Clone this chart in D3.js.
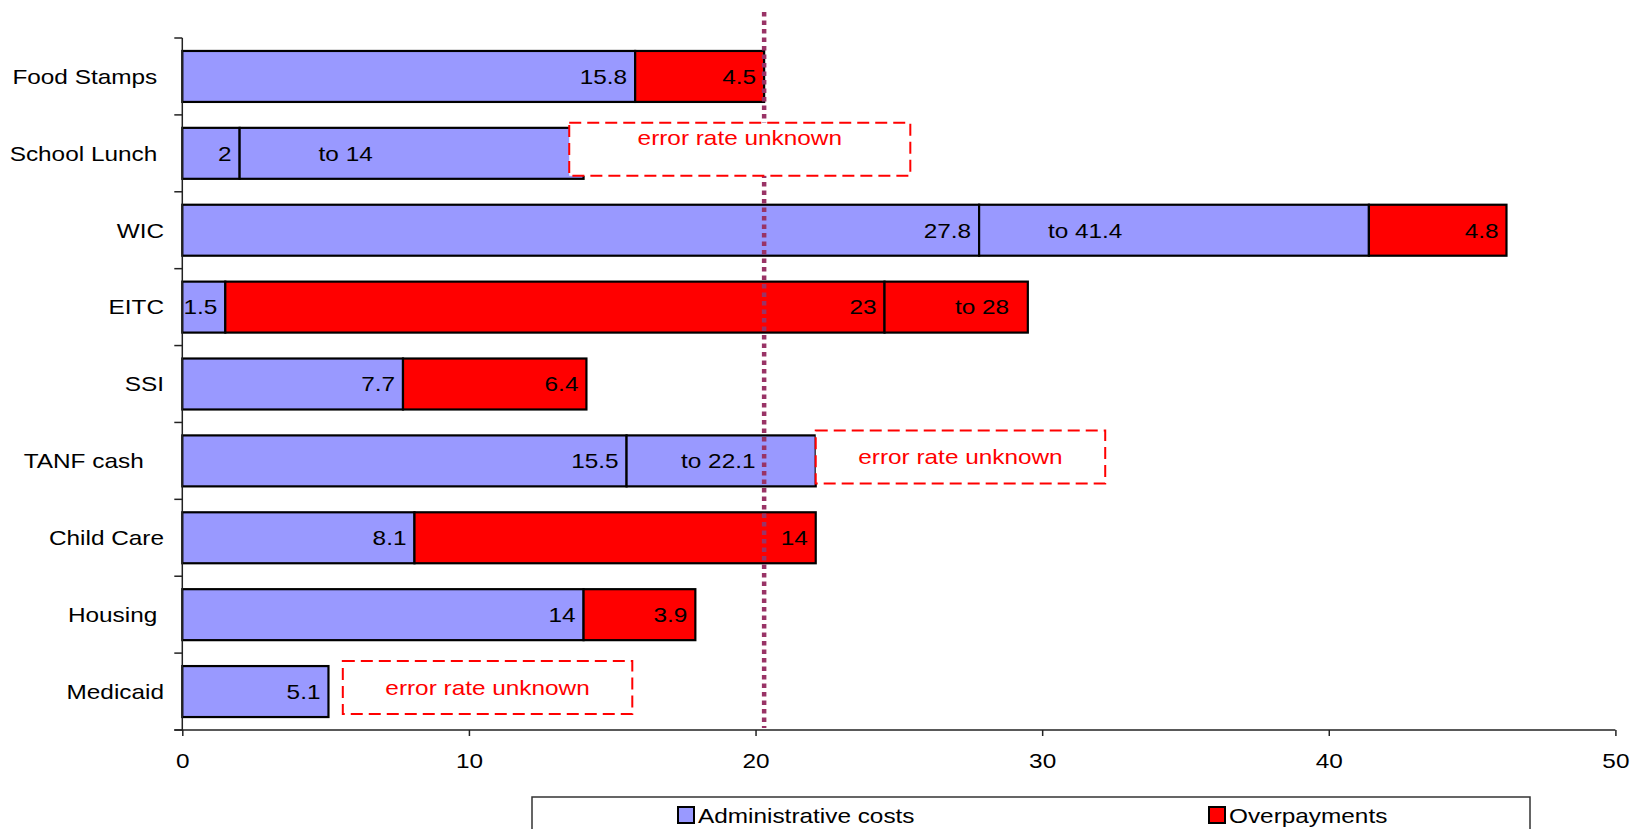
<!DOCTYPE html>
<html>
<head>
<meta charset="utf-8">
<script src="https://cdn.jsdelivr.net/npm/d3@7"></script>
<style>
  html, body { margin: 0; padding: 0; background: #fff; }
  svg { display: block; }
  text { font-family: "Liberation Sans", Arial, sans-serif; white-space: pre; }
</style>
</head>
<body>
<svg id="chart" width="1633" height="829"></svg>
<script>
// Programs, top to bottom (trailing spaces keep the label alignment of the original layout)
const categories = ["Food Stamps ", "School Lunch ", "WIC", "EITC", "SSI", "TANF cash   ", "Child Care", "Housing ", "Medicaid"];

// Administrative costs, as a percent of benefits: low estimate and, where given, upper bound
const adminLow  = [15.8, 2, 27.8, 1.5, 7.7, 15.5, 8.1, 14, 5.1];
const adminHigh = [null, 14, 41.4, null, null, 22.1, null, null, null];

// Overpayments, as a percent of benefits: low estimate and, where given, upper bound
const overLow  = [4.5, null, 4.8, 23, 6.4, null, 14, 3.9, null];
const overHigh = [null, null, null, 28, null, null, null, null, null];

// Where the "to …" range labels sit, in percent
const rangeLabelAt = [null, 5.7, 31.5, 27.9, null, 18.7, null, null, null];

// Programs whose error rate is not known: note box span in percent
const unknownNotes = [
  { program: "School Lunch ", from: 13.5, to: 25.4, textPos: 0.28 },
  { program: "TANF cash   ",  from: 22.1, to: 32.2, textPos: 0.5 },
  { program: "Medicaid",      from: 5.6,  to: 15.7, textPos: 0.5 }
];

const xTicks = [0, 10, 20, 30, 40, 50];
const seriesNames = ["Administrative costs", "Overpayments"];

const ADMIN = "#9999FF", OVER = "#FF0000", NOTE = "#FF0000", REF = "#993366";
const SX = 1.16;             // horizontal stretch of the lettering
const FONT = 21;

const svg = d3.select("#chart");
const x = d3.scaleLinear().domain([0, 50]).range([182.3, 1615.4]);
const y = d3.scaleBand().domain(categories).range([38, 730]).paddingInner(0.337).paddingOuter(0.1685);

// text helper: places a label and widens it around its anchor
function label(g, px, py, str, anchor, color, size) {
  return g.append("text")
    .attr("transform", `translate(${px},${py}) scale(${SX},1)`)
    .attr("text-anchor", anchor)
    .attr("dominant-baseline", "central")
    .attr("fill", color || "#000")
    .attr("font-size", size || FONT)
    .text(str);
}

// build segments from the series arrays
const segments = [];
categories.forEach((c, i) => {
  let start = 0;
  segments.push({ c, x0: 0, x1: adminLow[i], fill: ADMIN, text: String(adminLow[i]), mode: "end" });
  start = adminLow[i];
  if (adminHigh[i] != null) {
    segments.push({ c, x0: start, x1: adminHigh[i], fill: ADMIN, text: "to " + adminHigh[i], mode: "at", at: rangeLabelAt[i] });
    start = adminHigh[i];
  }
  if (overLow[i] != null) {
    const base = start;
    segments.push({ c, x0: base, x1: base + overLow[i], fill: OVER, text: String(overLow[i]), mode: "end" });
    start = base + overLow[i];
    if (overHigh[i] != null) {
      segments.push({ c, x0: start, x1: base + overHigh[i], fill: OVER, text: "to " + overHigh[i], mode: "at", at: rangeLabelAt[i] });
    }
  }
});

// reference line at the Food Stamps total
const refValue = adminLow[0] + overLow[0];

const plot = svg.append("g");

// bars
plot.selectAll("rect.seg").data(segments).join("rect")
  .attr("class", "seg")
  .attr("x", d => x(d.x0))
  .attr("y", d => y(d.c))
  .attr("width", d => x(d.x1) - x(d.x0))
  .attr("height", y.bandwidth())
  .attr("fill", d => d.fill)
  .attr("stroke", "#000")
  .attr("stroke-width", 2.2);

// bar labels
segments.forEach(d => {
  const cy = y(d.c) + y.bandwidth() / 2;
  if (d.mode === "end") label(plot, x(d.x1) - 8, cy, d.text, "end");
  else label(plot, x(d.at), cy, d.text, "middle");
});

// dotted reference line
plot.append("line")
  .attr("x1", x(refValue)).attr("x2", x(refValue))
  .attr("y1", 12).attr("y2", 728)
  .attr("stroke", REF).attr("stroke-width", 4.5)
  .attr("stroke-dasharray", "4.5,4");

// "error rate unknown" notes
unknownNotes.forEach(n => {
  const top = y(n.program) - 5, h = y.bandwidth() + 2;
  plot.append("rect")
    .attr("x", x(n.from)).attr("y", top)
    .attr("width", x(n.to) - x(n.from)).attr("height", h)
    .attr("fill", "#fff").attr("stroke", NOTE).attr("stroke-width", 2)
    .attr("stroke-dasharray", "12,6");
  label(plot, (x(n.from) + x(n.to)) / 2, top + h * n.textPos, "error rate unknown", "middle", NOTE);
});

// category axis
const yAxis = svg.append("g");
yAxis.append("line")
  .attr("x1", x(0)).attr("x2", x(0)).attr("y1", 38).attr("y2", 730)
  .attr("stroke", "#222").attr("stroke-width", 1.5);
d3.range(categories.length + 1).forEach(i => {
  const yy = 38 + i * y.step();
  yAxis.append("line")
    .attr("x1", x(0) - 8).attr("x2", x(0)).attr("y1", yy).attr("y2", yy)
    .attr("stroke", "#222").attr("stroke-width", 1.5);
});
categories.forEach(c => label(yAxis, 164, y(c) + y.bandwidth() / 2, c, "end"));

// value axis
const xAxis = svg.append("g").attr("transform", "translate(0,730)")
  .call(d3.axisBottom(x).tickValues(xTicks).tickSize(6).tickSizeOuter(0).tickFormat(d => d));
xAxis.select(".domain").attr("stroke", "#222").attr("stroke-width", 1.5)
  .attr("d", `M${x(0) - 8},0H${x(50)}`);
xAxis.selectAll(".tick line").attr("stroke", "#222").attr("stroke-width", 1.5);
xAxis.selectAll(".tick text")
  .attr("font-family", "Liberation Sans, Arial, sans-serif")
  .attr("font-size", FONT).attr("fill", "#000")
  .attr("y", 31).attr("dy", "0.35em")
  .attr("transform", `scale(${SX},1)`);

// legend
const legend = svg.append("g");
legend.append("rect")
  .attr("x", 532).attr("y", 797).attr("width", 998).attr("height", 50)
  .attr("fill", "#fff").attr("stroke", "#333").attr("stroke-width", 1.5);
const legendItems = [
  { name: seriesNames[0], fill: ADMIN, x: 678 },
  { name: seriesNames[1], fill: OVER, x: 1209 }
];
legendItems.forEach(it => {
  legend.append("rect")
    .attr("x", it.x).attr("y", 807).attr("width", 16).attr("height", 16)
    .attr("fill", it.fill).attr("stroke", "#000").attr("stroke-width", 2);
  label(legend, it.x + 20, 816, it.name, "start", "#000", 21);
});
</script>
</body>
</html>
